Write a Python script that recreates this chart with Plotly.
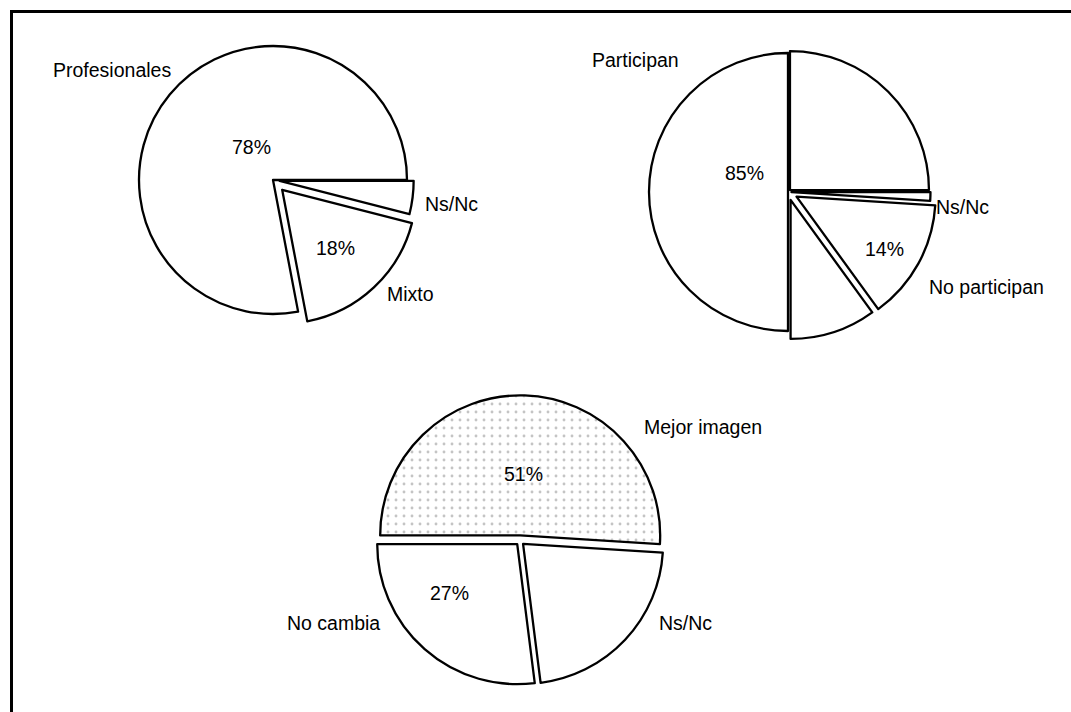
import plotly.graph_objects as go

W, H = 1071, 712

# ---------------- data ----------------
# Chart 1 (clockwise from 3 o'clock)
c1_labels = ["Ns/Nc", "Mixto", "Profesionales"]
c1_values = [4, 18, 78]
c1_printed = ["", "18%", "78%"]

# Chart 2 (clockwise from 3 o'clock); the 85% "Participan" block is drawn
# in the original as three separated pieces (10 + 50 + 25 = 85)
c2_labels = ["Ns/Nc", "No participan", "Participan (a)", "Participan (b)", "Participan (c)"]
c2_values = [1, 14, 10, 50, 25]
c2_printed = ["", "14%", "", "85%", ""]

# Chart 3 (clockwise from 9 o'clock)
c3_labels = ["Mejor imagen", "Ns/Nc", "No cambia"]
c3_values = [51, 22, 27]
c3_printed = ["51%", "", "27%"]

# outer category captions shown on the chart
c1_captions = ["Profesionales", "Ns/Nc", "Mixto"]
c2_captions = ["Participan", "Ns/Nc", "No participan"]
c3_captions = ["Mejor imagen", "No cambia", "Ns/Nc"]

# ---------------- layout / style ----------------
FONT = "Liberation Sans, Arial, Helvetica, sans-serif"
FS = 19.5

def domain(cx, cy, r, pulls):
    half = r * (1 + max(pulls))
    return dict(x=[(cx - half) / W, (cx + half) / W],
                y=[1 - (cy + half) / H, 1 - (cy - half) / H])

c1_pull = [0.05, 0.10, 0.0]
c2_pull = [0.025, 0.07, 0.06, 0.0, 0.02]
c3_pull = [0.04, 0.03, 0.03]

def pie(labels, values, pull, rotation, dom, colors, pattern=None):
    marker = dict(colors=colors, line=dict(color="black", width=2.3))
    if pattern is not None:
        marker["pattern"] = pattern
    return go.Pie(
        labels=labels, values=values, textinfo="none",
        sort=False, direction="clockwise", rotation=rotation,
        pull=pull, marker=marker, domain=dom, hoverinfo="skip",
        showlegend=False,
    )

fig = go.Figure()
fig.add_trace(pie(c1_labels, c1_values, c1_pull, 90,
                  domain(273, 180, 134, c1_pull), ["white"] * 3))
fig.add_trace(pie(c2_labels, c2_values, c2_pull, 90,
                  domain(788, 192, 139, c2_pull), ["white"] * 5))
fig.add_trace(pie(c3_labels, c3_values, c3_pull, 270,
                  domain(520, 541, 140, c3_pull), ["white"] * 3,
                  pattern=dict(shape=[".", "", ""], fgcolor="#c4c4c4",
                               bgcolor="white", size=8, solidity=0.1)))

# text positions (pixels) for the printed percentages, per slice
pct_pos = {
    0: [None, (335, 248), (251, 147)],
    1: [None, (884, 249), None, (744, 173), None],
    2: [(523, 474), None, (449, 593)],
}
caption_pos = {
    0: [(112, 70), (451, 204), (410, 294)],
    1: [(635, 60), (962, 207), (987, 287)],
    2: [(703, 427), (333, 623), (686, 623)],
}

annotations = []
def add_text(txt, px, py):
    annotations.append(dict(
        text=txt, x=px / W, y=1 - py / H, xref="paper", yref="paper",
        xanchor="center", yanchor="middle", showarrow=False,
        font=dict(family=FONT, size=FS, color="black")))

for k, printed in enumerate([c1_printed, c2_printed, c3_printed]):
    for txt, pos in zip(printed, pct_pos[k]):
        if txt and pos:
            add_text(txt, *pos)
for k, caps in enumerate([c1_captions, c2_captions, c3_captions]):
    for txt, (px, py) in zip(caps, caption_pos[k]):
        add_text(txt, px, py)

shapes = [
    dict(type="line", xref="paper", yref="paper",
         x0=11.5 / W, x1=11.5 / W, y0=1 - 10 / H, y1=0,
         line=dict(color="black", width=3)),
    dict(type="line", xref="paper", yref="paper",
         x0=10 / W, x1=1, y0=1 - 11.5 / H, y1=1 - 11.5 / H,
         line=dict(color="black", width=3)),
]

fig.update_layout(
    width=W, height=H, margin=dict(l=0, r=0, t=0, b=0),
    paper_bgcolor="white", plot_bgcolor="white",
    annotations=annotations, shapes=shapes,
)

fig.write_html("out.html")
